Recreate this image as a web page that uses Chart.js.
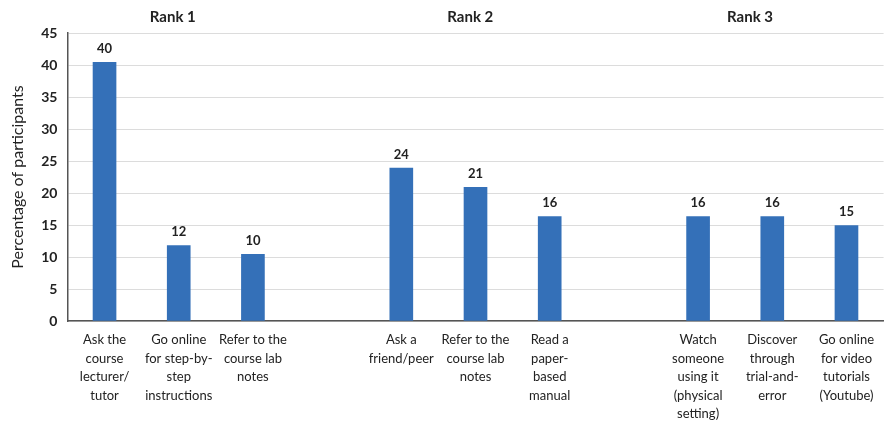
<!DOCTYPE html>
<html>
<head>
<meta charset="utf-8">
<script src="https://cdn.jsdelivr.net/npm/chart.js@4"></script>
<style>
  html, body { margin: 0; padding: 0; background: #fff; }
  #wrap { width: 884px; height: 424px; }
</style>
</head>
<body>
<div id="wrap"><canvas id="chart"></canvas></div>
<script>
// categories (empty slots separate the rank groups)
const categories = [
    ['Ask the', 'course', 'lecturer/', 'tutor'],
    ['Go online', 'for step-by-', 'step', 'instructions'],
    ['Refer to the', 'course lab', 'notes'],
    '',
    ['Ask a', 'friend/peer'],
    ['Refer to the', 'course lab', 'notes'],
    ['Read a', 'paper-', 'based', 'manual'],
    '',
    ['Watch', 'someone', 'using it', '(physical', 'setting)'],
    ['Discover', 'through', 'trial-and-', 'error'],
    ['Go online', 'for video', 'tutorials', '(Youtube)']
];
const percentages = [40.4, 11.8, 10.4, null, 23.9, 20.9, 16.3, null, 16.3, 16.3, 14.9];
const rankTitles = ['Rank 1', 'Rank 2', 'Rank 3'];
const rankPositions = [0.92, 4.93, 8.7];   // category index the title sits over
const yTicks = [0, 5, 10, 15, 20, 25, 30, 35, 40, 45];

const FONT = 'Lato, "Open Sans", sans-serif';

// Function to draw value labels and rank headings
const labelPlugin = {
    id: 'labels',
    afterDatasetsDraw(chart) {
        const ctx = chart.ctx;
        const meta = chart.getDatasetMeta(0);
        ctx.save();
        ctx.fillStyle = '#222';
        ctx.font = 'bold 13px ' + FONT;
        ctx.textAlign = 'center';
        ctx.textBaseline = 'bottom';
        meta.data.forEach((bar, i) => {
            const v = percentages[i];
            if (v === null) return;
            ctx.fillText(Math.round(v), bar.x, bar.y - 7);
        });
        const xs = chart.scales.x;
        ctx.font = 'bold 15px ' + FONT;
        ctx.textBaseline = 'middle';
        rankTitles.forEach((t, i) => {
            ctx.fillText(t, xs.getPixelForValue(rankPositions[i]), 17);
        });
        ctx.restore();
    }
};

const ctx = document.getElementById('chart').getContext('2d');
new Chart(ctx, {
    type: 'bar',
    data: {
        labels: categories,
        datasets: [{
            data: percentages,
            backgroundColor: '#3470b8',
            barThickness: 23
        }]
    },
    options: {
        responsive: true,
        maintainAspectRatio: false,
        animation: false,
        layout: { padding: { top: 33, right: 0, left: 4, bottom: 0 } },
        plugins: {
            legend: { display: false },
            tooltip: { enabled: false }
        },
        scales: {
            x: {
                afterFit(scale) { scale.height = 103; },
                grid: { display: false, drawTicks: false },
                border: { color: '#555', width: 1.5 },
                ticks: {
                    color: '#222',
                    font: { family: FONT, size: 13, lineHeight: 1.42 },
                    maxRotation: 0,
                    autoSkip: false,
                    padding: 10
                }
            },
            y: {
                min: 0,
                max: 45,
                afterBuildTicks(scale) {
                    scale.ticks = yTicks.map(v => ({ value: v }));
                },
                grid: { color: '#dcdcdc', drawTicks: false },
                border: { color: '#555', width: 1.5 },
                ticks: {
                    color: '#222',
                    font: { family: FONT, size: 14, weight: 'bold' },
                    padding: 10
                },
                title: {
                    display: true,
                    text: 'Percentage of participants',
                    color: '#222',
                    font: { family: FONT, size: 16 },
                    padding: { bottom: 4 }
                }
            }
        }
    },
    plugins: [labelPlugin]
});
</script>
</body>
</html>
